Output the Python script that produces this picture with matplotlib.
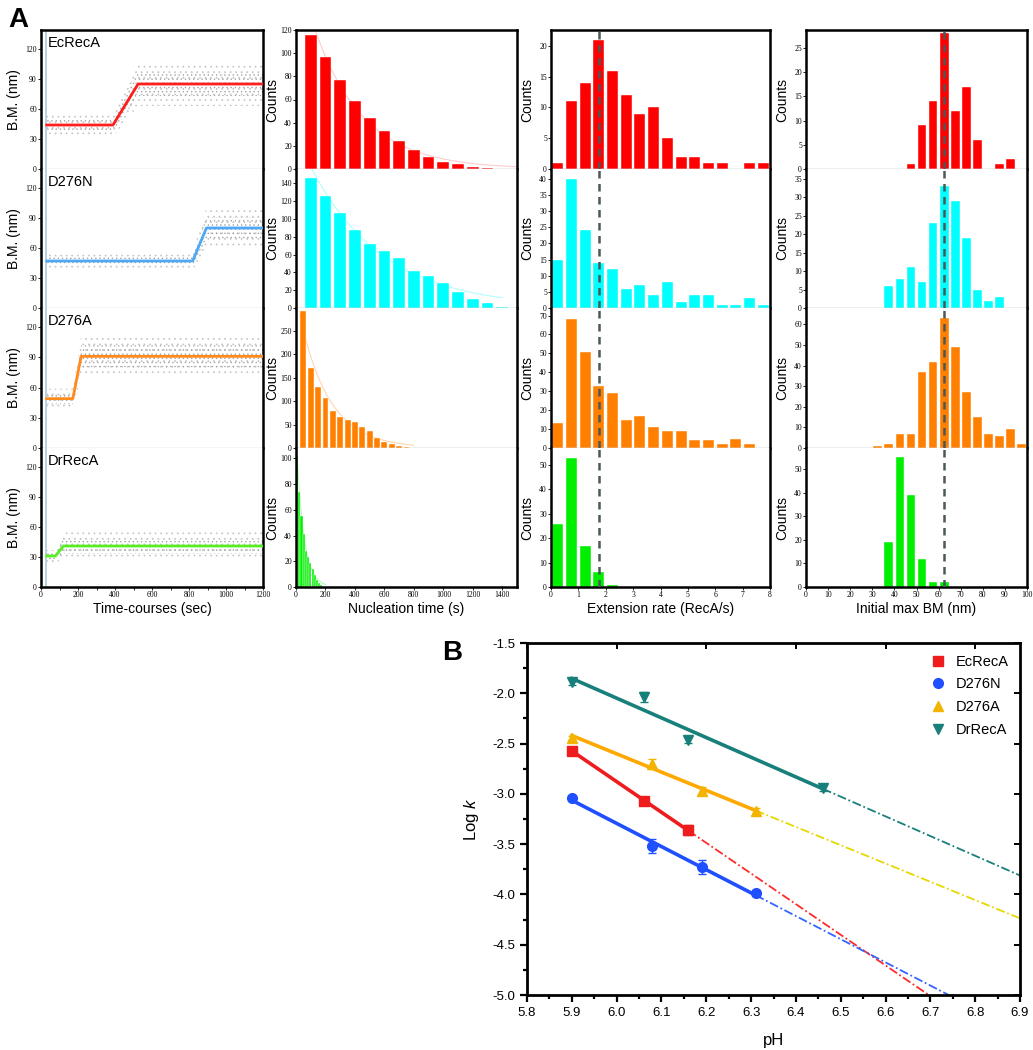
import numpy as np
import matplotlib
matplotlib.use("Agg")
import matplotlib.pyplot as plt
from matplotlib.ticker import MultipleLocator, FormatStrFormatter
from matplotlib.lines import Line2D

plt.rcParams["font.family"] = ["Liberation Sans", "DejaVu Sans"]
plt.rcParams["mathtext.fontset"] = "custom"
plt.rcParams["mathtext.rm"] = "Liberation Sans"
plt.rcParams["mathtext.it"] = "Liberation Sans:italic"
plt.rcParams["hatch.linewidth"] = 0.5

# ── Panel A data ─────────────────────────────────────────────────────────────
samples = ["EcRecA", "D276N", "D276A", "DrRecA"]

# time-course step fits: breakpoints (s) and B.M. levels (nm)
tc_time = [[31, 389, 525, 1200], [31, 820, 894, 1200],
           [31, 172, 217, 1200], [31, 78, 121, 1200]]
tc_bm = [[44, 44, 85, 85], [47, 47, 80, 80],
         [49, 49, 91, 91], [31, 31, 41, 41]]
# half-spread of the raw trace before / after the step (nm)
tc_spread = [[12, 22], [9, 20], [10, 20], [6, 14]]

# nucleation time histograms
nuc_first = [100, 100, 50, 7.5]
nuc_binw = [100, 100, 50, 15]
nuc_counts = [
    [116, 97, 77, 59, 44, 33, 24, 16, 10, 6, 4, 2, 1],
    [146, 126, 107, 88, 72, 64, 56, 42, 36, 28, 18, 10, 6, 1.5],
    [291, 170, 129, 107, 78, 67, 59, 56, 44, 36, 21, 13, 9, 4, 1.5],
    [102, 74, 55, 41, 28, 23, 19, 14, 9, 5.5, 3, 1.5],
]
nuc_fit_end = [1500, 1400, 800, 200]

# extension rate histograms (bins of 0.5 RecA/s)
ext_first = 0.25
ext_binw = 0.5
ext_counts = [
    [1, 11, 14, 21, 16, 12, 9, 10, 5, 2, 2, 1, 1, 0, 1, 1],
    [15, 40, 24, 14, 12, 6, 7, 4, 8, 2, 4, 4, 1, 1, 3, 1],
    [13, 68, 51, 33, 29, 15, 17, 11, 9, 9, 4, 4, 2, 5, 2],
    [26, 53, 17, 6, 1],
]
ext_mean = 1.75

# initial max BM histograms (bins of 5 nm)
bm_first = [47.5, 37.5, 32.5, 37.5]
bm_binw = 5
bm_counts = [
    [1, 9, 14, 28, 12, 17, 6, 0, 1, 2],
    [6, 8, 11, 7, 23, 33, 29, 19, 5, 2, 3],
    [1, 2, 7, 7, 37, 42, 63, 49, 27, 15, 7, 6, 9, 2],
    [19, 55, 39, 12, 2, 2],
]
bm_mean = 62.5

# ── Panel B data ─────────────────────────────────────────────────────────────
ec_ph = [5.90, 6.06, 6.16]
ec_logk = [-2.57, -3.07, -3.36]
ec_err = [0.03, 0.03, 0.05]
n_ph = [5.90, 6.08, 6.19, 6.31]
n_logk = [-3.04, -3.52, -3.73, -3.99]
n_err = [0.02, 0.07, 0.07, 0.03]
a_ph = [5.90, 6.08, 6.19, 6.31]
a_logk = [-2.44, -2.70, -2.97, -3.17]
a_err = [0.02, 0.05, 0.04, 0.03]
dr_ph = [5.90, 6.06, 6.16, 6.46]
dr_logk = [-1.89, -2.04, -2.46, -2.94]
dr_err = [0.03, 0.05, 0.03, 0.03]

# ── Styling ──────────────────────────────────────────────────────────────────
W, H = 1033, 1050
bar_colors = ["#ff0000", "#00ffff", "#ff8000", "#00ee00"]
fit_colors = ["#ff1e1e", "#4ea8f5", "#ff8a1e", "#55ee22"]
curve_colors = ["#ffcccc", "#b0ffff", "#ffd6b0", "#b0ffb0"]
cols_x = [(41, 263), (296, 517), (551, 770), (806, 1027)]
rows_y = [(30, 169), (169, 308), (308, 448), (448, 587)]
SERIF = ["Liberation Serif", "DejaVu Serif"]

fig = plt.figure(figsize=(W / 100, H / 100), dpi=100)


def fax(x0, y0, x1, y1):
    return fig.add_axes([x0 / W, 1 - y1 / H, (x1 - x0) / W, (y1 - y0) / H])


def style_cell(ax, r, sep_color):
    for s in ("left", "right"):
        ax.spines[s].set_linewidth(1.8)
    ax.spines["top"].set_visible(r == 0)
    ax.spines["top"].set_linewidth(1.8)
    if r == 3:
        ax.spines["bottom"].set_linewidth(1.8)
    else:
        ax.spines["bottom"].set_color(sep_color)
        ax.spines["bottom"].set_linewidth(1.0)
    ax.tick_params(axis="both", which="both", direction="out", length=2,
                   width=0.6, labelsize=5.5, pad=1)
    ax.tick_params(axis="x", labelbottom=(r == 3))
    if r < 3:
        ax.tick_params(axis="x", colors=sep_color)
    for lab in ax.get_xticklabels() + ax.get_yticklabels():
        lab.set_family(SERIF)


def hist_cell(ax, first, binw, counts, color, frac=0.8):
    centers = first + binw * np.arange(len(counts))
    ax.bar(centers, counts, width=frac * binw, color=color,
           edgecolor="white", linewidth=0.3, zorder=2)
    return centers


ylims_nuc = [120, 156, 298, 108]
ystep_nuc = [20, 20, 50, 20]
ylims_ext = [22.6, 43, 74, 57]
ystep_ext = [5, 5, 10, 10]
ylims_bm = [28.7, 37.7, 68, 59]
ystep_bm = [5, 5, 10, 10]

for r in range(4):
    y0, y1 = rows_y[r]

    # column 1 — time courses (raw trace shown as a dotted spread band)
    ax = fax(cols_x[0][0], y0, cols_x[0][1], y1)
    t = np.array(tc_time[r], dtype=float)
    lvl = np.array(tc_bm[r], dtype=float)
    half = np.array([tc_spread[r][0], tc_spread[r][0],
                     tc_spread[r][1], tc_spread[r][1]], dtype=float)
    ax.fill_between(t, lvl - half, lvl + half, facecolor="none",
                    edgecolor="#c4c4c4", hatch="...", linewidth=0, zorder=1)
    ax.fill_between(t, lvl - 0.55 * half, lvl + 0.55 * half,
                    facecolor="none", edgecolor="#a6a6a6", hatch="....",
                    linewidth=0, zorder=1)
    ax.plot(t, lvl, color=fit_colors[r], lw=2.0, zorder=3)
    ax.axvline(27, color="#b4d0e0", lw=1.4, zorder=0)
    ax.set_xlim(0, 1200)
    ax.set_ylim(0, 139)
    ax.yaxis.set_major_locator(MultipleLocator(30))
    ax.xaxis.set_major_locator(MultipleLocator(200))
    ax.xaxis.set_minor_locator(MultipleLocator(100))
    style_cell(ax, r, "#ecc8c8")
    ax.text(0.03, 0.96, samples[r], transform=ax.transAxes, ha="left",
            va="top", fontsize=10.5)
    fig.text(14 / W, 1 - (y0 + y1) / 2 / H, "B.M. (nm)", rotation=90,
             ha="center", va="center", fontsize=10)

    # column 2 — nucleation time
    ax = fax(cols_x[1][0], y0, cols_x[1][1], y1)
    centers = hist_cell(ax, nuc_first[r], nuc_binw[r], nuc_counts[r],
                        bar_colors[r], 0.8 if r < 3 else 0.95)
    cnt = np.array(nuc_counts[r], dtype=float)
    slope, icpt = np.polyfit(centers, np.log(cnt), 1, w=np.sqrt(cnt))
    xf = np.linspace(centers[0] * 0.5, nuc_fit_end[r], 200)
    ax.plot(xf, np.exp(icpt + slope * xf), color=curve_colors[r], lw=0.8,
            zorder=1)
    ax.set_xlim(0, 1500)
    ax.set_ylim(0, ylims_nuc[r])
    ax.yaxis.set_major_locator(MultipleLocator(ystep_nuc[r]))
    ax.xaxis.set_major_locator(MultipleLocator(200))
    style_cell(ax, r, "#b0b0b0")

    # column 3 — extension rate
    ax = fax(cols_x[2][0], y0, cols_x[2][1], y1)
    hist_cell(ax, ext_first, ext_binw, ext_counts[r], bar_colors[r])
    ax.axvline(ext_mean, color="#4a5858", lw=1.8, ls=(0, (3, 2.2)), zorder=3)
    ax.set_xlim(0, 8)
    ax.set_ylim(0, ylims_ext[r])
    ax.yaxis.set_major_locator(MultipleLocator(ystep_ext[r]))
    ax.xaxis.set_major_locator(MultipleLocator(1))
    style_cell(ax, r, "#b0b0b0")

    # column 4 — initial max BM
    ax = fax(cols_x[3][0], y0, cols_x[3][1], y1)
    hist_cell(ax, bm_first[r], bm_binw, bm_counts[r], bar_colors[r])
    ax.axvline(bm_mean, color="#4a5858", lw=1.8, ls=(0, (3, 2.2)), zorder=3)
    ax.set_xlim(0, 100)
    ax.set_ylim(0, ylims_bm[r])
    ax.yaxis.set_major_locator(MultipleLocator(ystep_bm[r]))
    ax.xaxis.set_major_locator(MultipleLocator(10))
    style_cell(ax, r, "#b0b0b0")

    for c in (1, 2, 3):
        fig.text((cols_x[c][0] - 24) / W, 1 - (y0 + y1) / 2 / H, "Counts",
                 rotation=90, ha="center", va="center", fontsize=10)

xlabels = ["Time-courses (sec)", "Nucleation time (s)",
           "Extension rate (RecA/s)", "Initial max BM (nm)"]
for c in range(4):
    fig.text((cols_x[c][0] + cols_x[c][1]) / 2 / W, 1 - 609 / H, xlabels[c],
             ha="center", va="center", fontsize=10)

fig.text(8 / W, 1 - 27 / H, "A", fontsize=20, fontweight="bold",
         va="baseline", ha="left")

# ── Panel B ──────────────────────────────────────────────────────────────────
axb = fax(527, 643, 1020, 995)
series = [
    ("EcRecA", ec_ph, ec_logk, ec_err, "s", "#ee1c1c", "#ee1c1c", "#ff2a2a"),
    ("D276N", n_ph, n_logk, n_err, "o", "#1f4fff", "#1f4fff", "#3366ff"),
    ("D276A", a_ph, a_logk, a_err, "^", "#f2b400", "#ffa800", "#e6d800"),
    ("DrRecA", dr_ph, dr_logk, dr_err, "v", "#17807a", "#17807a", "#17807a"),
]
handles = []
for name, xs, ys, es, mk, mcol, lcol, dcol in series:
    xs = np.array(xs)
    ys = np.array(ys)
    slope, icpt = np.polyfit(xs, ys, 1)
    xsol = np.array([xs.min(), xs.max()])
    axb.plot(xsol, icpt + slope * xsol, color=lcol, lw=2.6, zorder=2)
    xext = np.array([xs.max(), 6.9])
    axb.plot(xext, icpt + slope * xext, color=dcol, lw=1.3,
             ls=(0, (5, 1.5, 1, 1.5)), zorder=2)
    axb.errorbar(xs, ys, yerr=es, fmt=mk, color=mcol, ms=7, capsize=3,
                 elinewidth=1, capthick=1, zorder=3)
    handles.append(Line2D([], [], marker=mk, color=mcol, ls="none", ms=7,
                          label=name))

axb.set_xlim(5.8, 6.9)
axb.set_ylim(-5.0, -1.5)
axb.xaxis.set_major_locator(MultipleLocator(0.1))
axb.xaxis.set_minor_locator(MultipleLocator(0.05))
axb.yaxis.set_major_locator(MultipleLocator(0.5))
axb.yaxis.set_minor_locator(MultipleLocator(0.25))
axb.xaxis.set_major_formatter(FormatStrFormatter("%.1f"))
axb.yaxis.set_major_formatter(FormatStrFormatter("%.1f"))
axb.tick_params(which="major", direction="out", length=5, width=1.6,
                labelsize=9.5)
axb.tick_params(which="minor", direction="out", length=3, width=1.6)
for s in axb.spines.values():
    s.set_linewidth(2)
for sec in (axb.secondary_xaxis("top"), axb.secondary_yaxis("right")):
    sec.tick_params(which="both", direction="in", labelleft=False,
                    labelright=False, labeltop=False, width=1.4)
    sec.tick_params(which="major", length=4)
    sec.tick_params(which="minor", length=2)
    sec.spines[:].set_visible(False)
axb.set_xlabel("pH", fontsize=12, labelpad=10)
axb.set_ylabel("Log $\\mathit{k}$", fontsize=12, labelpad=8)
axb.legend(handles=handles, loc="upper right", frameon=False, fontsize=10.5,
           handletextpad=0.7, labelspacing=0.6, borderaxespad=0.5,
           handlelength=1.0, borderpad=0.3)

fig.text(442 / W, 1 - 660 / H, "B", fontsize=20, fontweight="bold",
         va="baseline", ha="left")

fig.savefig("out.png", dpi=100)
